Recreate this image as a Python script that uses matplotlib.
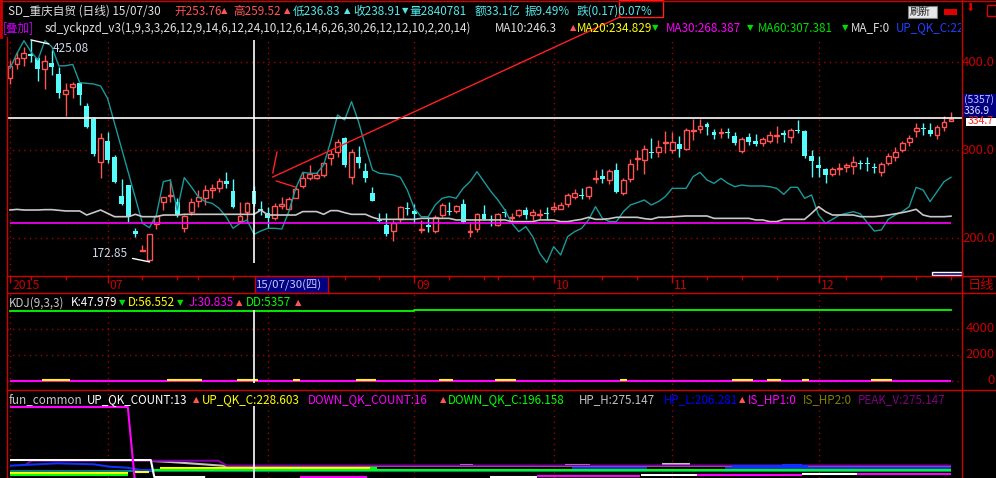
import matplotlib
matplotlib.use('Agg')
import matplotlib.pyplot as plt
from matplotlib.patches import Rectangle
from matplotlib.lines import Line2D
from matplotlib.transforms import Bbox, TransformedBbox
import numpy as np

# CJK font first, DejaVu as fallback for the small arrows
plt.rcParams['font.family'] = ['Noto Sans CJK SC', 'DejaVu Sans']

W, H = 996, 478

# ---------------- data (daily bars, 2015-06 .. 2015-12) ----------------
opens = [381.4, 397.3, 404.2, 408.7, 404.2, 391.7, 398.9, 386.4, 364.0, 372.0,
         375.8, 350.0, 335.2, 286.7, 310.2, 291.7, 247.7, 260.2, 208.0, 185.5,
         175.0, 215.5, 240.5, 248.1, 241.3, 211.0, 229.2, 242.0, 245.1, 254.9,
         256.4, 264.8, 253.4, 219.3, 229.9, 253.76, 232.6, 228.0, 222.3, 236.7,
         232.6, 245.8, 259.5, 268.6, 267.8, 271.6, 290.5, 298.1, 313.6, 269.7,
         292.4, 276.5, 250.8, 220.5, 214.8, 208.3, 221.2, 234.5, 230.7, 209.1,
         214.4, 207.6, 226.1, 230.7, 231.1, 238.6, 207.2, 210.2, 227.3, 221.2,
         214.8, 229.2, 222.3, 225.8, 231.4, 225.8, 226.1, 228.0, 232.8, 233.3,
         238.6, 246.2, 248.9, 247.7, 267.0, 270.5, 266.3, 277.3, 250.8, 266.7,
         290.2, 288.6, 297.7, 298.1, 307.6, 300.0, 306.8, 301.1, 321.9, 323.5,
         329.2, 320.8, 318.9, 320.0, 315.9, 299.2, 314.4, 310.6, 308.3, 310.2,
         315.9, 318.9, 314.4, 322.7, 321.6, 293.2, 283.0, 278.0, 272.7, 278.0,
         280.3, 281.8, 284.8, 285.6, 280.3, 275.4, 285.6, 291.7, 300.0, 308.7,
         321.9, 325.4, 322.7, 317.0, 326.2, 333.5]
highs = [402.3, 411.7, 417.0, 425.08, 406.0, 408.0, 413.6, 394.7, 375.8, 377.7,
         377.7, 353.0, 337.9, 318.9, 320.8, 294.3, 267.0, 260.2, 211.7, 192.0,
         204.2, 226.1, 247.0, 267.0, 245.8, 226.1, 245.1, 254.5, 260.2, 260.9,
         267.8, 275.4, 267.0, 241.3, 241.3, 259.52, 242.4, 235.6, 239.4, 247.0,
         247.0, 259.5, 275.4, 282.9, 275.4, 286.7, 300.0, 312.1, 315.2, 300.8,
         304.5, 285.2, 258.3, 228.8, 228.8, 220.5, 236.4, 241.3, 238.6, 220.5,
         224.2, 226.1, 240.2, 241.3, 237.5, 244.3, 218.6, 228.0, 237.5, 226.1,
         228.8, 233.3, 228.8, 233.3, 235.2, 232.8, 233.0, 235.2, 241.3, 241.3,
         251.5, 255.3, 256.4, 259.1, 277.3, 278.0, 278.0, 284.8, 267.8, 289.4,
         300.0, 305.7, 313.3, 311.4, 321.9, 320.0, 315.9, 324.6, 335.2, 335.2,
         331.8, 323.5, 324.6, 324.6, 320.8, 314.4, 319.7, 318.2, 314.4, 321.9,
         327.3, 322.7, 324.6, 334.1, 322.7, 300.0, 293.2, 279.2, 280.3, 284.8,
         285.6, 293.2, 288.6, 292.4, 284.8, 286.7, 296.2, 303.8, 310.6, 317.1,
         330.3, 331.0, 331.0, 328.4, 339.0, 342.8]
lows = [374.6, 391.7, 395.8, 400.4, 378.8, 369.0, 385.2, 358.7, 338.6, 358.7,
        351.1, 324.6, 293.6, 267.8, 284.8, 262.1, 237.5, 217.8, 201.5, 185.2,
        172.85, 210.2, 231.8, 241.3, 224.2, 207.2, 226.1, 235.6, 237.5, 245.1,
        252.7, 256.4, 234.5, 216.7, 216.7, 236.83, 226.1, 211.0, 220.5, 233.0,
        231.8, 245.1, 256.4, 265.9, 266.7, 269.7, 283.0, 291.7, 280.3, 261.4,
        279.2, 264.0, 242.4, 218.6, 202.3, 197.0, 216.7, 225.8, 216.7, 205.3,
        207.2, 205.3, 224.2, 226.1, 228.8, 217.4, 201.5, 207.2, 220.5, 214.0,
        214.0, 224.2, 218.6, 224.2, 221.2, 220.5, 221.2, 220.5, 229.0, 232.6,
        235.6, 244.3, 243.9, 244.3, 262.1, 262.1, 261.4, 250.8, 248.9, 263.6,
        277.3, 272.7, 290.5, 291.7, 296.2, 296.9, 292.4, 300.0, 311.4, 318.9,
        317.0, 312.1, 313.3, 313.3, 305.7, 296.2, 305.7, 304.5, 304.5, 308.3,
        308.3, 309.5, 308.3, 319.7, 290.5, 269.7, 269.7, 262.9, 270.5, 271.6,
        275.4, 272.3, 278.0, 276.5, 273.5, 270.5, 283.0, 287.9, 298.1, 305.0,
        315.2, 317.0, 315.9, 312.1, 321.9, 333.3]
closes = [395.5, 404.2, 409.8, 407.2, 391.7, 401.1, 394.7, 364.4, 368.2, 374.6,
          362.5, 326.5, 295.5, 313.3, 288.6, 264.0, 238.3, 224.2, 204.5, 186.3,
          204.2, 225.0, 247.0, 249.2, 226.1, 225.4, 240.5, 247.0, 254.5, 256.4,
          264.8, 261.0, 235.6, 225.4, 239.4, 238.91, 231.0, 222.3, 236.7, 238.3,
          244.3, 255.7, 268.6, 272.3, 271.6, 284.8, 295.5, 308.7, 283.0, 298.1,
          285.6, 268.6, 242.4, 219.3, 204.5, 216.7, 235.6, 233.0, 226.9, 210.2,
          212.9, 224.2, 237.5, 229.2, 236.4, 218.6, 208.3, 227.0, 221.2, 220.1,
          227.3, 228.0, 223.5, 231.4, 225.8, 229.5, 227.3, 227.3, 235.6, 237.9,
          248.9, 250.8, 247.7, 258.3, 267.8, 267.4, 276.5, 252.7, 266.3, 284.1,
          291.3, 300.8, 296.2, 303.8, 308.3, 308.7, 301.5, 322.7, 322.7, 327.3,
          325.8, 317.0, 320.0, 318.9, 308.3, 312.5, 309.5, 306.8, 312.1, 316.7,
          317.0, 317.0, 322.7, 321.6, 293.2, 287.9, 280.0, 271.6, 278.0, 279.2,
          282.6, 286.7, 284.1, 284.1, 279.5, 284.1, 293.2, 298.1, 308.3, 313.3,
          324.6, 323.9, 318.2, 326.5, 331.8, 334.7]

# overlay lines of sd_yckpzd_v3
teal_line = [392.8, 409.8, 424.2, 411.7, 402.3, 424.2, 417.4, 395.5, 395.8, 397.3,
             376.5, 375.8, 375.0, 372.7, 358.7, 330.3, 301.9, 273.5, 245.1, 216.7,
             211.7, 226.1, 264.0, 265.9, 231.8, 268.6, 258.3, 247.0, 241.3, 239.4,
             233.7, 224.2, 211.0, 216.7, 220.5, 204.2, 208.0, 211.0, 211.0, 210.2,
             229.9, 256.4, 274.6, 273.5, 273.5, 283.0, 309.5, 339.8, 334.1, 354.9,
             332.2, 303.8, 277.3, 273.5, 272.7, 271.6, 269.0, 254.5, 233.7, 224.2,
             224.2, 237.5, 245.1, 247.0, 245.1, 256.4, 264.0, 275.4, 264.0, 252.7,
             243.2, 231.8, 216.7, 207.2, 212.9, 201.5, 182.6, 172.0, 190.2, 180.7,
             201.5, 207.2, 210.9, 220.5, 235.6, 222.3, 218.6, 218.6, 229.9, 237.5,
             240.2, 243.2, 237.5, 241.3, 246.9, 256.4, 256.4, 256.4, 269.7, 274.6,
             265.9, 262.1, 267.8, 262.1, 258.3, 260.2, 259.1, 259.1, 259.1, 258.3,
             256.4, 249.6, 257.6, 257.6, 245.1, 248.9, 226.1, 216.7, 221.2, 226.1,
             228.0, 229.9, 227.3, 217.4, 207.9, 209.1, 221.2, 226.1, 229.9, 235.6,
             257.6, 254.5, 241.3, 252.7, 264.0, 269.0]
grey_line = [231.8, 232.5, 231.8, 231.8, 231.8, 232.2, 232.2, 231.5, 230.7, 230.7,
             230.7, 226.1, 229.0, 231.8, 228.0, 224.2, 224.2, 224.2, 226.9, 224.2,
             224.2, 224.2, 226.1, 226.1, 226.1, 226.9, 226.9, 226.9, 226.9, 226.9,
             226.9, 226.9, 226.9, 226.9, 226.9, 226.9, 231.8, 226.1, 226.1, 226.1,
             226.1, 226.1, 230.0, 230.0, 230.0, 226.9, 231.1, 231.1, 228.8, 226.9,
             226.9, 226.9, 223.5, 221.2, 221.2, 221.2, 221.2, 221.2, 221.2, 222.3,
             222.3, 222.3, 222.3, 222.3, 220.5, 220.5, 220.5, 220.5, 220.5, 220.5,
             220.5, 220.5, 218.6, 218.6, 218.6, 218.6, 220.5, 220.5, 220.5, 218.6,
             218.6, 220.0, 221.2, 223.5, 221.2, 221.2, 222.0, 223.5, 223.5, 223.5,
             223.5, 222.0, 221.2, 223.5, 223.5, 224.0, 224.5, 225.0, 225.0, 225.0,
             225.0, 222.3, 222.3, 222.3, 222.3, 222.3, 222.3, 220.5, 220.5, 218.6,
             218.6, 221.2, 221.2, 221.2, 221.2, 228.0, 235.6, 229.9, 226.1, 226.1,
             226.1, 226.1, 224.2, 224.2, 224.2, 225.0, 226.1, 227.5, 228.8, 230.5,
             232.6, 226.1, 224.2, 224.2, 224.2, 224.8]
support_level = 216.7
cursor_index = 35
cursor_price = 336.9
peak_index, peak_value = 3, 425.08
trough_index, trough_value = 20, 172.85
# hand drawn red lines (index, price)
trend_line = [(37.7, 269.3), (87.5, 451.1)]
short_lines = [[(37.7, 273.9), (38.3, 297.7)], [(38.2, 264.8), (40.9, 258.0)]]

month_ticks = [0, 14, 37, 58, 78, 95, 116]
# the August label sits under the cursor date box, so it is not shown
month_labels = ['2015', '07', '', '09', '10', '11', '12']
week_ticks = [3, 8, 19, 24, 27, 32, 42, 48, 53, 63, 68, 70, 75, 85, 90, 100, 105, 110, 120, 125, 130, 135]

# KDJ panel
dd_line = [5357] * 58 + [5430] * 78
kdj_j_level = 30.8
kdj_d_level = 100
kdj_d_spans = [(4.6, 8.6), (22.5, 27.5), (32.5, 35.6), (40.6, 41.6), (49.6, 52.5), (61.6, 63.6),
               (69.6, 72.6), (87.5, 88.5), (103.6, 106.6), (108.6, 110.6), (113.6, 114.6), (123.5, 126.5)]

# fun_common panel, lines as point lists (index, value)
fun_magenta = [[(0, 1293), (16.9, 1293), (17.9, 40)], [(41.6, 86), (51.2, 86)], [(75.6, 103), (90.4, 103)],
               [(98.6, 121), (113.6, 121)], [(121.5, 138), (135, 138)]]
fun_white = [[(0, 379), (20.2, 379), (20.7, 86), (28, 86)], [(68.9, 86), (75.6, 86)],
             [(90.5, 121), (98.6, 121)], [(113.6, 138), (121.5, 138)]]
fun_grey = [[(20.4, 362), (23, 345), (26, 320), (31, 276), (135, 276)], [(64.6, 290), (66.4, 290)],
            [(79.6, 290), (83.2, 290)], [(93.5, 310), (97.6, 310)]]
fun_purple = [[(2.2, 293), (3.1, 367), (29.9, 367), (31.1, 283), (135, 283)]]
fun_blue = [[(0, 281), (6.7, 322), (12, 305), (14.3, 264), (16.8, 247), (18.7, 207), (80.6, 207)],
            [(80.6, 236), (91.4, 236)], [(102.6, 247), (135, 247)], [(103.6, 270), (114.5, 270)],
            [(110.8, 293), (113.6, 293)]]
fun_yellow = [[(0, 150), (16.9, 150)], [(17.7, 167), (20, 167)], [(21.5, 236), (52, 236)]]
fun_green = [[(0, 121), (16.9, 121)], [(20.6, 207), (135, 207)], [(51.7, 250), (52.6, 250)]]
fun_teal = [[(0, 190), (135, 190)]]

# ---------------- colours ----------------
RED = '#ff5454'
CYAN = '#54fcfc'
AXRED = '#d00000'
GRIDRED = '#a00000'
LBLRED = '#c80000'
TXT = 8.4   # size of the legend / header texts

XLIM = (-0.43, 136.58)


def fx(x):
    return x / W


def fy(y):
    return 1 - y / H


def add_panel(top, bottom, ylim):
    ax = fig.add_axes([fx(7), fy(bottom), (962 - 7) / W, (bottom - top) / H])
    ax.set_facecolor('black')
    ax.set_xlim(*XLIM)
    ax.set_ylim(*ylim)
    ax.set_xticks([])
    ax.set_yticks([])
    for s in ax.spines.values():
        s.set_visible(False)
    return ax


def label(x, y, s, color, size=TXT, ha='left', clip=None, **kw):
    t = fig.text(fx(x), fy(y), s, color=color, fontsize=size, ha=ha, va='center', **kw)
    if clip is not None:
        t.set_clip_box(TransformedBbox(Bbox.from_extents(0, 0, fx(clip), 1), fig.transFigure))
        t.set_clip_on(True)
    return t


def pieces(y, items, size=TXT, clip=None):
    for x, s, c in items:
        if s in ('▲', '▼'):
            label(x, y, s, c, size=6, family='DejaVu Sans', clip=clip)
        else:
            label(x, y, s, c, size=size, clip=clip)


def fig_line(x0, y0, x1, y1, color=AXRED, lw=1):
    fig.add_artist(Line2D([fx(x0), fx(x1)], [fy(y0), fy(y1)], color=color, lw=lw,
                          transform=fig.transFigure))


def draw_segments(ax, segs, color, lw=1.5):
    for seg in segs:
        xs = [p[0] for p in seg]
        ys = [p[1] for p in seg]
        ax.plot(xs, ys, color=color, lw=lw, solid_capstyle='butt')


fig = plt.figure(figsize=(W / 100, H / 100), dpi=100, facecolor='black')

# ---------------- main price panel ----------------
ax = add_panel(37, 276, (156.8, 428.4))
idx = np.arange(len(closes))
o = np.array(opens)
c = np.array(closes)
h = np.array(highs)
l = np.array(lows)
up = c >= o

# grid
for m in month_ticks:
    ax.axvline(m, color=GRIDRED, lw=1, ls=(0, (1, 3)), zorder=1)
for p in [200, 300, 400]:
    ax.axhline(p, color=GRIDRED, lw=1, ls=(0, (1, 3)), zorder=1)

# candles
ax.vlines(idx[up], l[up], h[up], color=RED, lw=1, zorder=2)
ax.vlines(idx[~up], l[~up], h[~up], color=CYAN, lw=1, zorder=2)
ax.bar(idx[up], np.maximum(c - o, 1.0)[up], bottom=o[up], width=0.7,
       facecolor='black', edgecolor=RED, lw=1, zorder=3)
ax.bar(idx[~up], np.maximum(o - c, 1.0)[~up], bottom=c[~up], width=0.7,
       color=CYAN, lw=0, zorder=3)

# indicator lines
ax.plot(idx, teal_line, color='#1a9a9a', lw=1, zorder=4)
ax.plot(idx, grey_line, color='#c8c8c8', lw=1.2, zorder=4)
ax.hlines(support_level, idx[0], idx[-1], color='#ff00ff', lw=1.2, zorder=4)

# cursor cross
ax.axhline(cursor_price, color='white', lw=1.2, zorder=5)
ax.vlines(cursor_index, 171.6, 425, color='white', lw=1.2, zorder=5)

# red drawing lines
ax.plot([p[0] for p in trend_line], [p[1] for p in trend_line], color='#ff2020', lw=1,
        clip_on=False, zorder=6)
for seg in short_lines:
    ax.plot([p[0] for p in seg], [p[1] for p in seg], color='#ff2020', lw=1, zorder=6)

# max / min annotations
ax.annotate(f'{peak_value:.2f}', xy=(peak_index, peak_value), xytext=(22, -9),
            textcoords='offset pixels', color='#d0d8ec', fontsize=8.5, ha='left', va='center',
            arrowprops=dict(arrowstyle='-', color='white', lw=1, shrinkA=1, shrinkB=0), zorder=6)
ax.annotate(f'{trough_value:.2f}', xy=(trough_index, trough_value), xytext=(-21, 8),
            textcoords='offset pixels', color='#d0d8ec', fontsize=8.5, ha='right', va='center',
            arrowprops=dict(arrowstyle='-', color='white', lw=1, shrinkA=1, shrinkB=0), zorder=6)

# ---------------- date strip ----------------
axd = add_panel(276, 293, (0, 1))
for m, t in zip(month_ticks, month_labels):
    if t:
        axd.text(m + 0.3, 0.42, t, color=LBLRED, fontsize=8.8, ha='left', va='center')
axd.vlines(week_ticks, 0.75, 1.0, color=AXRED, lw=1)
axd.vlines(month_ticks, 0.6, 1.0, color=AXRED, lw=1)
# cursor date box
axd.add_patch(Rectangle((35.1, 0.02), 10.5, 0.96, facecolor='#000080', edgecolor=AXRED, lw=1, zorder=5))
axd.text(35.35, 0.46, '15/07/30(四)', color='#c8c8ff', fontsize=8.2, ha='left', va='center', zorder=6)

# ---------------- KDJ panel ----------------
axk = add_panel(293, 390, (-692, 6769))
for m in month_ticks:
    axk.axvline(m, color=GRIDRED, lw=1, ls=(0, (1, 3)), zorder=1)
for v in [0, 2000, 4000]:
    axk.axhline(v, color=GRIDRED, lw=1, ls=(0, (1, 3)), zorder=1)
axk.step(idx, dd_line, where='post', color='#00ff00', lw=1.3, zorder=3)
axk.hlines(kdj_j_level, idx[0], idx[-1], color='#ff00ff', lw=1.5, zorder=3)
for a, b in kdj_d_spans:
    axk.hlines(kdj_d_level, a, b, color='#ffff00', lw=1.5, zorder=4)
axk.vlines(cursor_index, -154, 5461, color='white', lw=1.2, zorder=5)

# ---------------- fun_common panel ----------------
axf = add_panel(390, 478, (69, 1586))
for m in month_ticks:
    axf.axvline(m, color=GRIDRED, lw=1, ls=(0, (1, 3)), zorder=1)
draw_segments(axf, fun_teal, '#008080')
draw_segments(axf, fun_grey, '#c0c0c0')
draw_segments(axf, fun_purple, '#8000a0')
draw_segments(axf, fun_blue, '#1030ff')
draw_segments(axf, fun_yellow, '#ffff00')
draw_segments(axf, fun_green, '#00ff00')
draw_segments(axf, fun_white, '#ffffff')
draw_segments(axf, fun_magenta, '#ff00ff')
axf.vlines(cursor_index, 0, 1310, color='white', lw=1.2, zorder=5)

# ---------------- frame lines ----------------
fig_line(7, 37, 7, 478)
fig_line(1, 0, 1, 37, lw=2)
fig_line(0, 0.5, 996, 0.5)
fig_line(962, 0, 962, 478)
fig_line(7, 276, 996, 276)
fig_line(7, 293, 996, 293)
fig_line(7, 390, 996, 390)
fig.add_artist(Rectangle((fx(619), fy(17)), (663 - 619) / W, 17 / H, transform=fig.transFigure,
                         fill=False, edgecolor='#ff2020', lw=1))
fig.add_artist(Rectangle((fx(932), fy(275)), 30 / W, 3 / H, transform=fig.transFigure,
                         facecolor='#000080', edgecolor='white', lw=1))

# right axis labels
for v, y in [('400.0', 62), ('300.0', 150), ('200.0', 238)]:
    label(995, y, v, LBLRED, size=9.5, ha='right')
for v, y in [('4000', 329), ('2000', 355), ('0', 381)]:
    label(995, y, v, LBLRED, size=9.5, ha='right')
label(968, 285, '日线', LBLRED, size=9.5)
fig.add_artist(Rectangle((fx(963), fy(117)), 33 / W, 23 / H, transform=fig.transFigure,
                         facecolor='#000080', edgecolor='none'))
label(964, 100, '(5357)', '#c0c0ff', size=7.5)
label(964, 111, '336.9', '#e0e0ff', size=7.5)
fig.add_artist(Rectangle((fx(966), fy(126)), 30 / W, 8 / H, transform=fig.transFigure,
                         facecolor='white', edgecolor='none'))
label(968, 121.5, '334.7', '#ff2020', size=7.5)

# header buttons
fig.add_artist(Rectangle((fx(908), fy(18)), 29 / W, 12 / H, transform=fig.transFigure,
                         facecolor='#e8e8e8', edgecolor='#808080', lw=0.8))
label(910, 12, '刷新', '#202020', size=7.5)
fig.add_artist(Rectangle((fx(944), fy(15)), 13 / W, 6 / H, transform=fig.transFigure,
                         facecolor='#e00000', edgecolor='none'))
label(965, 8, '⬇', '#e00000', size=8, family='DejaVu Sans')
fig.add_artist(Rectangle((fx(987), fy(16)), 9 / W, 11 / H, transform=fig.transFigure,
                         fill=False, edgecolor='#e00000', lw=1))

# ---------------- header text ----------------
LIGHT = '#e0e0e0'
TXCYAN = '#54e8e8'
pieces(11, [(8, 'SD_重庆自贸 (日线) 15/07/30', LIGHT),
            (174, '开253.76', RED), (221, '▲', RED),
            (233, '高259.52', RED), (284, '▲', RED),
            (293, '低236.83', TXCYAN), (344, '▲', TXCYAN),
            (353, '收238.91', TXCYAN), (402, '▼', TXCYAN),
            (409, '量2840781', TXCYAN), (475, '额33.1亿', TXCYAN),
            (525, '振9.49%', TXCYAN), (577, '跌(0.17)0.07%', TXCYAN)])
pieces(28, [(3, '[叠加]', '#d000ff'),
            (45, 'sd_yckpzd_v3(1,9,3,3,26,12,9,14,6,12,24,10,12,6,14,6,26,30,26,12,12,10,2,20,14)', LIGHT),
            (495, 'MA10:246.3', LIGHT), (570, '▲', RED),
            (577, 'MA20:234.829', '#ffff00'), (652, '▼', '#00e000'),
            (666, 'MA30:268.387', '#ff00ff'), (747, '▼', '#00e000'),
            (758, 'MA60:307.381', '#00e000'), (842, '▼', '#00e000'),
            (851, 'MA_F:0', LIGHT), (896, 'UP_QK_C:228.603', '#2040ff')], clip=961)
pieces(303, [(9, 'KDJ(9,3,3)', '#c8c8c8'),
             (71, 'K:47.979', 'white'), (119, '▼', '#00e000'),
             (128, 'D:56.552', '#ffff00'), (177, '▼', '#00e000'),
             (189, 'J:30.835', '#ff00ff'), (236, '▲', RED),
             (246, 'DD:5357', '#00ff00'), (295, '▲', RED)])
pieces(400, [(9, 'fun_common', '#c8c8c8'),
             (87, 'UP_QK_COUNT:13', 'white'), (193, '▲', RED),
             (202, 'UP_QK_C:228.603', '#ffff00'),
             (308, 'DOWN_QK_COUNT:16', '#ff00ff'), (440, '▲', RED),
             (448, 'DOWN_QK_C:196.158', '#00ff00'),
             (579, 'HP_H:275.147', '#c0c0c0'),
             (664, 'HP_L:206.281', '#0000ff'), (739, '▲', RED),
             (748, 'IS_HP1:0', '#ff00ff'),
             (803, 'IS_HP2:0', '#808000'),
             (858, 'PEAK_V:275.147', '#800080')])

fig.savefig('out.png', dpi=100, facecolor='black')
